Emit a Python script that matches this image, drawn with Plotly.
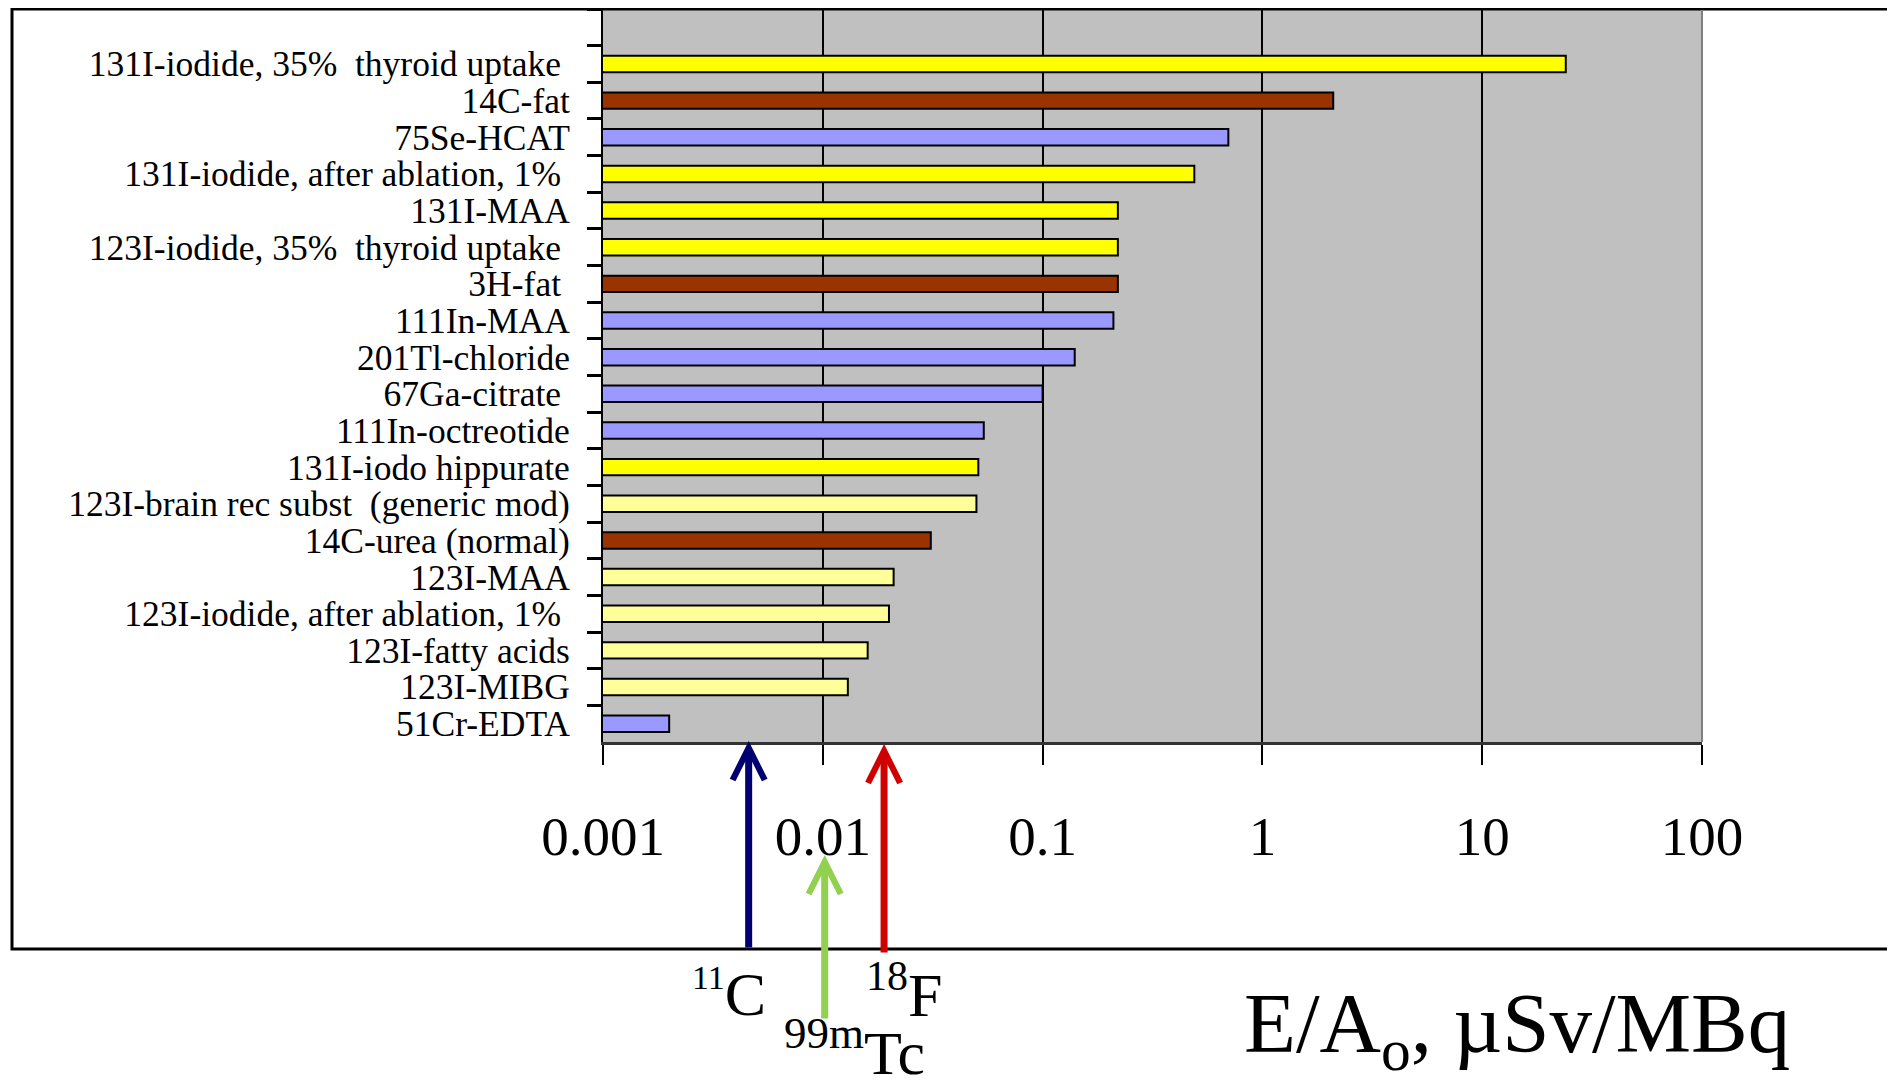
import math
import plotly.graph_objects as go

# ---------------- data ----------------
categories = [
    " ",
    "131I-iodide, 35%\u00a0 thyroid uptake\u00a0",
    "14C-fat",
    "75Se-HCAT",
    "131I-iodide, after ablation, 1%\u00a0",
    "131I-MAA",
    "123I-iodide, 35%\u00a0 thyroid uptake\u00a0",
    "3H-fat\u00a0",
    "111In-MAA",
    "201Tl-chloride",
    "67Ga-citrate\u00a0",
    "111In-octreotide",
    "131I-iodo hippurate",
    "123I-brain rec subst\u00a0 (generic mod)",
    "14C-urea (normal)",
    "123I-MAA",
    "123I-iodide, after ablation, 1%\u00a0",
    "123I-fatty acids",
    "123I-MIBG",
    "51Cr-EDTA",
]
values = [None, 24, 2.1, 0.7, 0.49, 0.22, 0.22, 0.22, 0.21, 0.14, 0.1,
          0.054, 0.051, 0.05, 0.031, 0.021, 0.02, 0.016, 0.013, 0.002]

tick_vals = [0.001, 0.01, 0.1, 1, 10, 100]
tick_text = ["0.001", "0.01", "0.1", "1", "10", "100"]

ref_nuclides = ["11C", "99mTc", "18F"]
ref_values = [0.0046, 0.0102, 0.019]

# ---------------- style ----------------
YEL = "#FFFF00"
BRN = "#993300"
LAV = "#9999FF"
LYE = "#FFFF99"
bar_colors = [LAV, YEL, BRN, LAV, YEL, YEL, YEL, BRN, LAV, LAV, LAV,
              LAV, YEL, LYE, BRN, LYE, LYE, LYE, LYE, LAV]
arrow_colors = ["#000070", "#92D050", "#D00000"]

OFF = 8  # page body margin
W, H = 1895 - OFF, 1081 - OFF
L, R, T, B = 603 - OFF, 1702 - OFF, 9 - OFF, 742 - OFF   # plot area (figure pixels)


def py(ypage):
    return (B - (ypage - OFF)) / (B - T)


def px(xpage):
    return ((xpage - OFF) - L) / (R - L)


SERIF = "Liberation Serif, Times New Roman, serif"

fig = go.Figure()
fig.add_trace(go.Bar(
    x=values, y=categories, orientation="h",
    marker=dict(color=bar_colors, line=dict(color="black", width=2)),
    hoverinfo="x+y",
))

fig.update_layout(
    width=W, height=H,
    margin=dict(l=L, r=W - R, t=T, b=H - B),
    paper_bgcolor="white",
    plot_bgcolor="#C0C0C0",
    bargap=0.55,
    showlegend=False,
    font=dict(family=SERIF, color="black"),
)

fig.update_xaxes(
    type="log", range=[-3, 2],
    tickvals=tick_vals, ticktext=tick_text,
    tickfont=dict(family=SERIF, size=55, color="black"),
    ticks="outside", ticklen=20, tickwidth=1.5, tickcolor="black",
    ticklabelstandoff=24,
    showgrid=True, gridcolor="black", gridwidth=2,
    showline=True, linecolor="#333333", linewidth=3,
    zeroline=False,
)
fig.update_yaxes(
    type="category",
    range=[len(categories) - 0.5, -0.5],
    tickmode="linear", tick0=0, dtick=1,
    tickson="boundaries",
    ticks="outside", ticklen=14, tickwidth=2.5, tickcolor="black",
    tickfont=dict(family=SERIF, size=35.5, color="black"),
    ticklabelstandoff=24,
    showgrid=False,
    showline=True, linecolor="black", linewidth=2,
)

shapes = [
    # outer frame
    dict(type="rect", xref="paper", yref="paper",
         x0=px(12), x1=px(1930), y0=py(949), y1=py(9),
         line=dict(color="black", width=3), fillcolor="rgba(0,0,0,0)", layer="above"),
    # plot area right border
    dict(type="line", xref="paper", yref="paper", x0=1, x1=1, y0=0, y1=py(10),
         line=dict(color="#808080", width=2)),
]
fig.update_layout(shapes=shapes)

# arrows for reference nuclides
tips = [741, 855, 744]
tails = [949, 1020, 954]
annotations = []
for name, v, col, tip, tail in zip(ref_nuclides, ref_values, arrow_colors, tips, tails):
    annotations.append(dict(
        x=math.log10(v), xref="x", y=py(tip), yref="paper",
        ax=0, ay=tail - tip, axref="pixel", ayref="pixel",
        text="", showarrow=True, arrowhead=5, arrowsize=0.9, arrowwidth=7,
        arrowcolor=col,
    ))

label_text = {
    "11C": "<sup><span style='font-size:34px'>11</span></sup>C",
    "99mTc": "<sup><span style='font-size:45px'>99m</span></sup>Tc",
    "18F": "<sup><span style='font-size:42px'>18</span></sup>F",
}
label_pos = {"11C": (-20, 993), "99mTc": (30, 1047), "18F": (20, 991)}
for name, v in zip(ref_nuclides, ref_values):
    dx, ypix = label_pos[name]
    annotations.append(dict(
        x=math.log10(v), xref="x", y=py(ypix), yref="paper",
        xanchor="center", yanchor="middle", xshift=dx,
        text=label_text[name], showarrow=False,
        font=dict(family=SERIF, size=62, color="black"),
    ))

annotations.append(dict(
    x=px(1517), xref="paper", y=py(1030), yref="paper",
    xanchor="center", yanchor="middle",
    text="E/A<sub>o</sub>, \u00b5Sv/MBq", showarrow=False,
    font=dict(family=SERIF, size=85, color="black"),
))
fig.update_layout(annotations=annotations)

fig.write_html("out.html")
